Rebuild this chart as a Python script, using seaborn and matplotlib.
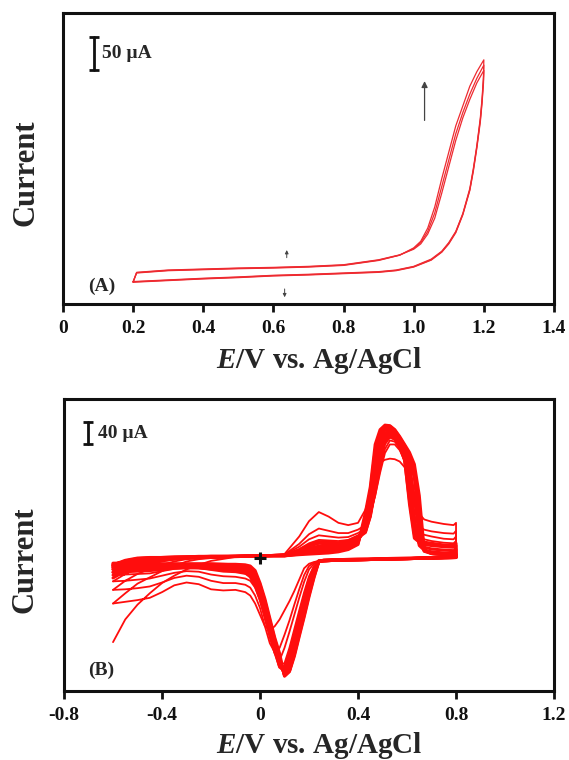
import pandas as pd
import matplotlib
matplotlib.use("Agg")
import matplotlib.pyplot as plt
import seaborn as sns

sns.set_style("white")
plt.rcParams["font.family"] = ["Liberation Serif", "DejaVu Serif"]
plt.rcParams["font.weight"] = "bold"
plt.rcParams["mathtext.fontset"] = "custom"
plt.rcParams["mathtext.it"] = "Liberation Serif:italic:bold"
plt.rcParams["mathtext.rm"] = "Liberation Serif:bold"

# ---- panel A : potential (V) and current (uA) for three cycles ----
e_fwd_a = [0.20, 0.21, 0.30, 0.40, 0.50, 0.60, 0.70, 0.80, 0.90, 0.96, 1.00,
           1.02, 1.04, 1.06, 1.08, 1.10, 1.12, 1.14, 1.16, 1.18, 1.20]
e_rev_a = [1.200, 1.199, 1.195, 1.19, 1.18, 1.17, 1.16, 1.14, 1.12, 1.10, 1.08,
           1.05, 1.00, 0.95, 0.90, 0.80, 0.70, 0.60, 0.50, 0.40, 0.30, 0.20]

fwd_a1 = [34, 47, 50.5, 52, 53.5, 54.5, 56, 58.5, 66, 74, 85, 95, 115, 147, 190, 230, 270, 300, 330, 352, 370]
fwd_a2 = [33.5, 47.5, 51, 52.5, 54, 55, 56.5, 59, 66.5, 74, 84, 93, 110, 138, 178, 218, 258, 290, 318, 342, 362]
fwd_a3 = [33, 48, 51.5, 53, 54.5, 55.5, 57, 59.5, 67, 74.5, 83, 91, 106, 130, 168, 208, 248, 282, 310, 335, 354]
rev_a1 = [370, 345, 312, 282, 240, 205, 175, 137, 110, 93, 80, 68, 57, 51.5, 49, 47, 45, 43.5, 41, 39, 36.5, 34]
rev_a2 = [362, 340, 308, 279, 238, 203, 173, 136, 109, 92, 79, 67, 56.5, 51, 48.5, 46.5, 44.5, 43, 40.5, 38.5, 36, 33.5]
rev_a3 = [354, 335, 305, 276, 236, 201, 172, 135, 108, 91, 78.5, 66.5, 56, 50.5, 48, 46, 44, 42.5, 40, 38, 35.5, 33]

# ---- panel B : repeated cycles ----
e_fwd_b = [-0.60, -0.55, -0.50, -0.45, -0.40, -0.35, -0.30, -0.25, -0.20, -0.10, 0.00, 0.10,
           0.16, 0.20, 0.24, 0.28, 0.32, 0.36, 0.40, 0.43, 0.45, 0.47, 0.49, 0.51, 0.53,
           0.55, 0.57, 0.59, 0.61, 0.63, 0.65, 0.67, 0.70, 0.75, 0.79, 0.80]
e_rev_b = [0.80, 0.70, 0.60, 0.50, 0.40, 0.30, 0.26, 0.24, 0.22, 0.20, 0.18, 0.16, 0.14,
           0.12, 0.10, 0.08, 0.06, 0.04, 0.02, 0.00, -0.02, -0.04, -0.06, -0.10, -0.15,
           -0.20, -0.25, -0.30, -0.35, -0.40, -0.45, -0.50, -0.55, -0.60]

# first scans (hump at 0.24 V still visible)
fwd_b1 = [-148, -108, -82, -62, -44, -31, -20, -12, -5, 2, 4, 7, 38, 65, 81, 73, 62, 58, 62,
          85, 112, 150, 168, 173, 175, 174, 170, 160, 145, 110, 78, 68, 64, 60, 58, 62]
fwd_b2 = [-80, -62, -45, -34, -23, -14, -6, -2, 0, 2, 4, 6, 25, 42, 52, 48, 44, 44, 50,
          58, 80, 110, 150, 185, 200, 200, 190, 172, 130, 75, 56, 50, 47, 44, 43, 48]
fwd_b3 = [-56, -40, -28, -19, -12, -6, -2, 0, 1, 2, 4, 6, 20, 33, 40, 38, 36, 37, 44,
          52, 75, 110, 155, 192, 207, 205, 193, 172, 120, 62, 46, 41, 38, 34, 33, 38]
fwd_b4 = [-41, -28, -18, -11, -6, -3, -1, 0, 1, 2, 4, 5, 16, 26, 32, 31, 30, 32, 40,
          48, 72, 115, 165, 200, 212, 208, 195, 170, 110, 50, 38, 33, 30, 27, 26, 30]
# later scans (dense band)
fwd_b5 = [-35, -23, -14, -8, -4, -1.5, 0, 0.5, 1.5, 2.5, 4, 5, 14, 23, 29, 28, 27, 30, 38,
          46, 73, 120, 172, 205, 215, 210, 196, 172, 102, 42, 33, 28, 26, 23, 22, 26]
fwd_b6 = [-30, -18, -10, -5, -2, 0, 1, 1, 2, 3, 4, 5, 13, 21, 26, 25, 25, 28, 36,
          45, 75, 125, 180, 210, 218, 212, 198, 175, 95, 35, 28, 24, 22, 20, 19, 22]
fwd_b7 = [-25, -14, -7, -3, -1, 0, 1, 1, 2, 3, 4, 5, 11, 17, 21, 21, 22, 25, 34,
          48, 82, 138, 190, 215, 221, 215, 202, 182, 125, 50, 25, 19, 16, 14, 13, 15]
fwd_b8 = [-20, -10, -4, -1, 0, 1, 1, 2, 2, 3, 4, 5, 10, 14, 17, 18, 19, 23, 32,
          50, 90, 150, 200, 220, 224, 218, 205, 188, 150, 70, 22, 14, 11, 9, 8, 8]
fwd_b9 = [-17, -8, -3, -0.5, 0.5, 1, 1.5, 2, 2.5, 3, 4, 4.5, 9, 12, 14, 15, 17, 21, 30,
          58, 100, 165, 210, 225, 227, 221, 208, 192, 165, 105, 40, 13, 9, 7, 6, 6]
fwd_b10 = [-15, -6, -2, 0, 1, 1, 2, 2, 3, 3, 4, 4, 8, 11, 12, 13, 15, 19, 28,
           65, 110, 180, 218, 229, 230, 223, 210, 195, 178, 140, 60, 12, 8, 6, 5, 5]
fwd_b11 = [-13, -5, -1, 0.5, 1, 1.5, 2, 2.5, 3, 3, 4, 4, 7, 9, 10, 11, 13, 17, 26,
           72, 118, 190, 222, 232, 232, 225, 212, 198, 182, 152, 85, 13, 8, 6, 5, 5]
fwd_b12 = [-12, -4, 0, 1, 1, 2, 2, 3, 3, 3, 4, 4, 6, 7, 8, 9, 11, 15, 24,
           80, 125, 200, 226, 234, 233, 226, 214, 200, 186, 165, 110, 15, 8, 6, 5, 5]

rev_b1 = [3, 1, 0, -1, -2, -3, -4, -5, -7, -10, -18, -38, -58, -76, -92, -108, -120, -127,
          -120, -100, -80, -66, -60, -56, -57, -55, -46, -43, -48, -60, -70, -74, -77, -80]
rev_b2 = [3, 1, 0, -1, -2, -3, -4, -5, -8, -14, -30, -55, -82, -110, -135, -158, -166, -150,
          -120, -88, -66, -52, -47, -44, -44, -40, -33, -31, -35, -43, -50, -53, -55, -56]
rev_b3 = [2, 1, 0, -1, -2, -3, -4, -5, -10, -20, -42, -70, -100, -130, -158, -180, -168, -140,
          -108, -75, -52, -40, -36, -33, -32, -29, -24, -23, -26, -31, -36, -38, -40, -41]
rev_b4 = [2, 1, 0, -1, -2, -3, -4, -5, -14, -32, -60, -92, -125, -158, -185, -188, -160, -128,
          -95, -64, -42, -32, -28, -25, -24, -21, -18, -17, -19, -23, -27, -28, -29, -30]
rev_b5 = [2, 1, 0, -1, -2, -3, -4, -5, -17, -38, -70, -102, -136, -168, -192, -190, -165, -134,
          -100, -72, -48, -33, -26, -22, -21, -19, -17, -17, -18, -20, -22, -23, -24, -25]
rev_b6 = [2, 0, -1, -2, -2, -3, -4, -5, -20, -45, -78, -112, -146, -178, -198, -192, -162, -130,
          -96, -68, -44, -30, -23, -20, -19, -18, -17, -17, -17, -18, -19, -19, -20, -20]
rev_b7 = [2, 0, -1, -2, -3, -3, -4, -5, -23, -50, -84, -118, -153, -185, -200, -190, -158, -126,
          -92, -64, -40, -27, -20, -17, -17, -16, -15, -15, -15, -16, -17, -17, -17, -17]
rev_b8 = [2, 0, -1, -2, -3, -4, -4, -6, -26, -55, -90, -124, -160, -192, -203, -186, -154, -122,
          -88, -60, -37, -24, -18, -15, -15, -14, -14, -14, -14, -14, -15, -15, -15, -15]
rev_b9 = [1, 0, -1, -2, -3, -4, -5, -6, -28, -58, -94, -128, -164, -195, -205, -182, -150, -118,
          -84, -55, -33, -21, -16, -14, -13, -13, -13, -13, -13, -13, -13, -13, -13, -13]
rev_b10 = [1, 0, -1, -2, -3, -4, -5, -6, -30, -62, -98, -132, -168, -198, -206, -178, -147, -114,
           -80, -51, -30, -19, -15, -13, -12, -12, -12, -12, -12, -12, -12, -12, -12, -12]
rev_b11 = [1, 0, -1, -2, -3, -4, -5, -6, -33, -65, -101, -135, -170, -199, -207, -174, -143, -110,
           -76, -47, -27, -17, -13, -12, -11, -11, -11, -11, -11, -11, -11, -10, -10, -10]
rev_b12 = [1, 0, -1, -2, -3, -4, -5, -6, -35, -68, -104, -138, -173, -200, -208, -168, -140, -106,
           -72, -44, -22, -14, -12, -11, -11, -10, -10, -10, -10, -10, -9, -9, -9, -9]

cycles_a = [(fwd_a1, rev_a1), (fwd_a2, rev_a2), (fwd_a3, rev_a3)]
cycles_early = [(fwd_b1, rev_b1), (fwd_b2, rev_b2), (fwd_b3, rev_b3), (fwd_b4, rev_b4)]
cycles_late = [(fwd_b5, rev_b5), (fwd_b6, rev_b6), (fwd_b7, rev_b7), (fwd_b8, rev_b8),
               (fwd_b9, rev_b9), (fwd_b10, rev_b10), (fwd_b11, rev_b11), (fwd_b12, rev_b12)]


def build(cycles, e_fwd, e_rev):
    rows = []
    for k, (f, r) in enumerate(cycles):
        for e, i in zip(e_fwd + e_rev, f + r):
            rows.append({"E": e, "I": i, "cycle": k})
    return pd.DataFrame(rows)


df_a = build(cycles_a, e_fwd_a, e_rev_a)
df_early = build(cycles_early, e_fwd_b, e_rev_b)
df_late = build(cycles_late, e_fwd_b, e_rev_b)

fig = plt.figure(figsize=(5.69, 7.60), dpi=100)
ax1 = fig.add_axes([0.1107, 0.600, 0.8629, 0.3829])
ax2 = fig.add_axes([0.1125, 0.0908, 0.8612, 0.3842])

sns.lineplot(data=df_a, x="E", y="I", units="cycle", estimator=None, sort=False,
             color="#ee2a30", lw=0.9, ax=ax1)
sns.lineplot(data=df_early, x="E", y="I", units="cycle", estimator=None, sort=False,
             color="#ff0d0d", lw=1.3, ax=ax2)
sns.lineplot(data=df_late, x="E", y="I", units="cycle", estimator=None, sort=False,
             color="#ff0d0d", lw=2.2, ax=ax2)

ax1.set_xlim(0, 1.4)
ax1.set_ylim(0, 441)
ax1.set_xticks([0, 0.2, 0.4, 0.6, 0.8, 1.0, 1.2, 1.4])
ax1.set_xticklabels(["0", "0.2", "0.4", "0.6", "0.8", "1.0", "1.2", "1.4"])

ax2.set_xlim(-0.8, 1.2)
ax2.set_ylim(-234, 280)
ax2.set_xticks([-0.8, -0.4, 0, 0.4, 0.8, 1.2])
ax2.set_xticklabels(["-0.8", "-0.4", "0", "0.4", "0.8", "1.2"])

for ax in (ax1, ax2):
    ax.set_yticks([])
    for sp in ax.spines.values():
        sp.set_visible(True)
        sp.set_color("#111111")
        sp.set_linewidth(2.2)
    ax.tick_params(axis="x", direction="out", length=5.5, width=2, pad=6,
                   labelsize=14, bottom=True, colors="#111111")
    for lab in ax.get_xticklabels():
        lab.set_fontweight("bold")
    ax.set_xlabel("$E$/V vs. Ag/AgCl", fontsize=21, fontweight="bold")
    ax.set_ylabel("Current", fontsize=22, fontweight="bold")

ax1.xaxis.set_label_coords(0.521, -0.14)
ax2.xaxis.set_label_coords(0.521, -0.135)
ax1.yaxis.set_label_coords(-0.045, 0.45)
ax2.yaxis.set_label_coords(-0.05, 0.45)

# scale bars
ax1.plot([0.088, 0.088], [355, 405], color="#111111", lw=2, marker="_", ms=7, mew=2)
ax1.text(0.11, 380, "50 µA", fontsize=14, fontweight="bold", va="center", ha="left")
ax2.plot([-0.702, -0.702], [200, 240], color="#111111", lw=2, marker="_", ms=7, mew=2)
ax2.text(-0.66, 220, "40 µA", fontsize=14, fontweight="bold", va="center", ha="left")

# panel letters
ax1.text(0.071, 27, "(A)", fontsize=14, fontweight="bold", va="center", ha="left")
ax2.text(-0.702, -198, "(B)", fontsize=14, fontweight="bold", va="center", ha="left")

# arrows in panel A
arrow = dict(arrowstyle="-|>", color="#444444", lw=0.9, mutation_scale=9)
ax1.annotate("", xy=(1.031, 342), xytext=(1.031, 274), arrowprops=arrow)
small = dict(arrowstyle="-|>", color="#444444", lw=0.7, mutation_scale=5)
ax1.annotate("", xy=(0.638, 86), xytext=(0.638, 66), arrowprops=small)
ax1.annotate("", xy=(0.632, 6), xytext=(0.632, 27), arrowprops=small)

# start point marker in panel B
start_e = [0.0]
start_i = [0.0]
ax2.plot(start_e, start_i, marker="+", ms=8, mew=2.2, color="#111111", ls="none")

fig.savefig("out.png", dpi=100)
